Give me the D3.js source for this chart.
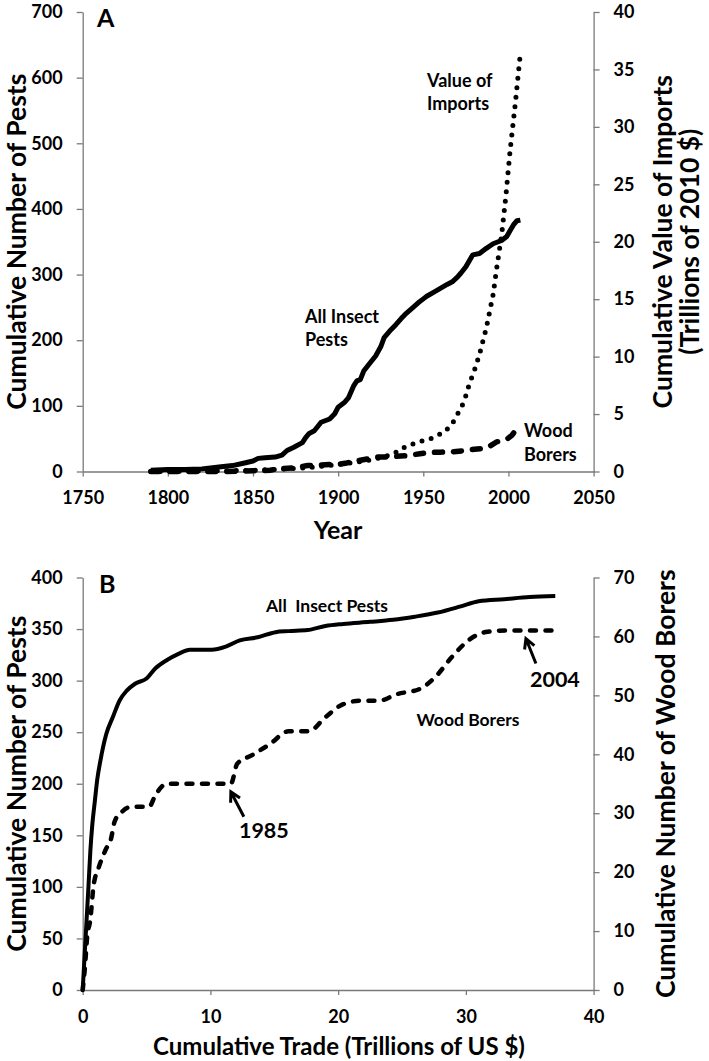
<!DOCTYPE html>
<html><head><meta charset="utf-8">
<script src="https://cdn.jsdelivr.net/npm/d3@7"></script>
<style>
body{margin:0;background:#fff;}
svg text{font-family:Lato,"Open Sans",sans-serif;font-weight:700;fill:#000;}
</style></head><body>
<svg id="c" width="709" height="1061"></svg>
<script>
// ---------- Panel A data ----------
const pestYears = [1790,1800,1810,1820,1830,1838,1845,1850,1853,1857,1863,1867,1870,1874,1879,1881,1883,1886,1890,1895,1898,1900,1904,1906,1909,1911,1913,1915,1918,1922,1925,1927,1931,1934,1937,1940,1944,1947,1950,1952,1956,1960,1964,1967,1970,1972,1975,1979,1983,1987,1991,1994,1996,1999,2001,2003,2005,2007];
const pestCounts = [2,3,3,4,7,9,13,16,20,21,22,25,32,37,44,52,58,62,75,80,88,98,106,112,130,138,140,153,163,176,190,204,216,224,233,241,250,257,263,267,273,279,285,289,296,302,312,330,332,340,347,350,352,358,367,376,382,383];

const borerYears = [1790,1835,1850,1860,1866,1875,1882,1890,1900,1905,1911,1917,1922,1928,1933,1940,1948,1954,1960,1967,1975,1980,1985,1988,1993,1996,1999,2002,2004];
const borerCounts = [0,0,1,2,4,6,9,10,11,13,16,19,22,22,23,24,27,29,29.5,30,32,34,35,37,45,47,49,55,62];

const importYears = [1790,1850,1880,1900,1915,1925,1932,1940,1948,1955,1963,1968,1973,1975,1977,1980,1983,1987,1991,1993,1996,1998.5,2001,2004,2007];
const importValues = [0,0.1,0.3,0.6,0.9,1.2,1.5,2.2,2.6,2.9,3.5,4.4,5.8,6.6,7.6,8.8,10.2,12.5,15.4,17.6,20.6,24,28,32,36.4];

const yearTicks = [1750,1800,1850,1900,1950,2000,2050];
const pestTicksA = [0,100,200,300,400,500,600,700];
const importTicks = [0,5,10,15,20,25,30,35,40];

// ---------- Panel B data ----------
const tradePests = [0,0.2,0.45,0.6,0.75,0.95,1.15,1.38,1.84,2.37,2.9,3.43,4.1,5.0,5.7,6.6,7.5,8.4,10.1,11.2,12.3,13.7,15.1,16.1,17.6,19.0,20.4,22.5,24.3,26.0,27.8,29.6,31.0,33,35,37];
const pestsB = [0,45,100,135,160,183,205,222,248,265,281,290,297,302,312,320,326,330,330,333,339,342,347,348,349,353,355,357,359,362,366,372,377,379,381,382];

const tradeBorers = [0,0.18,0.35,0.6,0.85,1.24,1.84,2.2,2.5,3.1,3.8,5.2,5.7,6.6,11.6,12.1,13.3,14.7,16.1,17.7,19.0,20.4,21.8,23.2,24.6,26.4,27.6,28.9,30.3,31.7,33.1,37.0];
const bordersB = [0,4,9,12,17.7,20.7,24,25.5,28.6,30.3,31.1,31.1,33.1,35,35,38.4,39.9,41.8,43.9,43.9,46.3,48.5,49.1,49.1,50.2,51.1,53.1,56.5,59.5,60.8,61,61];

const tradeTicks = [0,10,20,30,40];
const pestTicksB = [0,50,100,150,200,250,300,350,400];
const borerTicksB = [0,10,20,30,40,50,60,70];

// annotations: [trade, borers] of arrow targets
const note1985 = {label:"1985", x:11.6, y:35};
const note2004 = {label:"2004", x:34.7, y:61};

// ---------- drawing ----------
const svg = d3.select("#c");
const L = 82.7, R = 593.6;
const axisColor = "#7a7a7a";
const tickFont = 18, rotFont = 26.5, xTitleFont = 24;

function styleAxis(g){
  g.select(".domain").attr("stroke",axisColor).attr("stroke-width",1.3);
  g.selectAll(".tick line").attr("stroke",axisColor).attr("stroke-width",1.3);
  g.selectAll(".tick text").style("font-size",tickFont+"px").attr("fill","#000");
}

// ----- Panel A -----
const xA = d3.scaleLinear().domain([1750,2050]).range([L,R]);
const yA = d3.scaleLinear().domain([0,700]).range([471.5,12]);
const yA2 = d3.scaleLinear().domain([0,40]).range([471.5,12]);

svg.append("g").attr("transform",`translate(0,${yA(0)})`)
  .call(d3.axisBottom(xA).tickValues(yearTicks).tickFormat(d3.format("d")).tickSize(5).tickPadding(15).tickSizeOuter(0)).call(styleAxis);
svg.append("g").attr("transform",`translate(${L},0)`)
  .call(d3.axisLeft(yA).tickValues(pestTicksA).tickSize(6).tickPadding(14).tickSizeOuter(0)).call(styleAxis);
svg.append("g").attr("transform",`translate(${R},0)`)
  .call(d3.axisRight(yA2).tickValues(importTicks).tickSize(6).tickPadding(14).tickSizeOuter(0)).call(styleAxis);

const lineA = (xs,ys,y) => d3.line().x((d,i)=>xA(xs[i])).y((d,i)=>y(ys[i]))(xs);

svg.append("path").attr("d",lineA(importYears,importValues,yA2)).attr("fill","none")
  .attr("stroke","#000").attr("stroke-width",5).attr("stroke-linecap","round").attr("stroke-dasharray","0,9.5");
svg.append("path").attr("d",lineA(borerYears,borerCounts,yA)).attr("fill","none")
  .attr("stroke","#000").attr("stroke-width",5.5).attr("stroke-linecap","round").attr("stroke-dasharray","8,11");
svg.append("path").attr("d",lineA(pestYears,pestCounts,yA)).attr("fill","none")
  .attr("stroke","#000").attr("stroke-width",5).attr("stroke-linejoin","round");

svg.append("text").attr("x",97).attr("y",27).style("font-size","25px").text("A");
svg.append("text").attr("x",338).attr("y",539).attr("text-anchor","middle").style("font-size","25px").text("Year");
const midA = (yA(0)+yA(700))/2;
svg.append("text").attr("transform",`translate(26,${midA}) rotate(-90)`).attr("text-anchor","middle").style("font-size",rotFont+"px").text("Cumulative Number of Pests");
svg.append("text").attr("transform",`translate(672,${midA}) rotate(-90)`).attr("text-anchor","middle").style("font-size",rotFont+"px").text("Cumulative Value of Imports");
svg.append("text").attr("transform",`translate(699,${midA}) rotate(-90)`).attr("text-anchor","middle").style("font-size",rotFont+"px").text("(Trillions of 2010 $)");

function lines(x,y,arr,size,gap){
  arr.forEach((t,i)=>svg.append("text").attr("x",x).attr("y",y+i*gap).style("font-size",size+"px").text(t));
}
lines(427,87,["Value of","Imports"],18,23);
lines(305,323,["All Insect","Pests"],18,23);
lines(524,437,["Wood","Borers"],18,24);

// ----- Panel B -----
const xB = d3.scaleLinear().domain([0,40]).range([L,R]);
const yB = d3.scaleLinear().domain([0,400]).range([990,577.5]);
const yB2 = d3.scaleLinear().domain([0,70]).range([990,577.5]);

svg.append("g").attr("transform",`translate(0,${yB(0)})`)
  .call(d3.axisBottom(xB).tickValues(tradeTicks).tickSize(5).tickPadding(15).tickSizeOuter(0)).call(styleAxis);
svg.append("g").attr("transform",`translate(${L},0)`)
  .call(d3.axisLeft(yB).tickValues(pestTicksB).tickSize(6).tickPadding(14).tickSizeOuter(0)).call(styleAxis);
svg.append("g").attr("transform",`translate(${R},0)`)
  .call(d3.axisRight(yB2).tickValues(borerTicksB).tickSize(6).tickPadding(14).tickSizeOuter(0)).call(styleAxis);

const lineB = (xs,ys,y) => d3.line().x((d,i)=>xB(xs[i])).y((d,i)=>y(ys[i])).curve(d3.curveMonotoneX)(xs);
svg.append("path").attr("d",lineB(tradeBorers,bordersB,yB2)).attr("fill","none")
  .attr("stroke","#000").attr("stroke-width",4.5).attr("stroke-linecap","round").attr("stroke-dasharray","6,9.5");
svg.append("path").attr("d",lineB(tradePests,pestsB,yB)).attr("fill","none")
  .attr("stroke","#000").attr("stroke-width",4).attr("stroke-linejoin","round");

svg.append("text").attr("x",99).attr("y",593).style("font-size","25px").text("B");
svg.append("text").attr("x",339).attr("y",1055).attr("text-anchor","middle").style("font-size",xTitleFont+"px").text("Cumulative Trade (Trillions of US $)");
const midB = (yB(0)+yB(400))/2;
svg.append("text").attr("transform",`translate(26,${midB}) rotate(-90)`).attr("text-anchor","middle").style("font-size",rotFont+"px").text("Cumulative Number of Pests");
svg.append("text").attr("transform",`translate(675,${midB}) rotate(-90)`).attr("text-anchor","middle").style("font-size",rotFont+"px").text("Cumulative Number of Wood Borers");

svg.append("text").attr("x",327).attr("y",612).attr("text-anchor","middle").style("font-size","17.5px").style("white-space","pre").text("All  Insect Pests");
svg.append("text").attr("x",468).attr("y",726).attr("text-anchor","middle").style("font-size","17.5px").text("Wood Borers");

function arrow(note,dx1,dy1,tx,ty){
  const x0 = xB(note.x), y0 = yB2(note.y)+8;
  const x1 = x0+dx1, y1 = y0+dy1;
  const ang = Math.atan2(y1-y0,x1-x0);
  const hl = 11, ha = 0.5;
  const p = d3.path();
  p.moveTo(x1,y1); p.lineTo(x0,y0);
  p.moveTo(x0+hl*Math.cos(ang-ha),y0+hl*Math.sin(ang-ha)); p.lineTo(x0,y0);
  p.lineTo(x0+hl*Math.cos(ang+ha),y0+hl*Math.sin(ang+ha));
  svg.append("path").attr("d",p.toString()).attr("fill","none").attr("stroke","#000").attr("stroke-width",3).attr("stroke-linejoin","miter").attr("stroke-linecap","butt");
  svg.append("text").attr("x",x0+tx).attr("y",y0+ty).attr("text-anchor","middle").style("font-size","21.5px").text(note.label);
}
arrow(note1985,13,25,33,46);
arrow(note2004,10,25,29,48);
</script>
</body></html>
